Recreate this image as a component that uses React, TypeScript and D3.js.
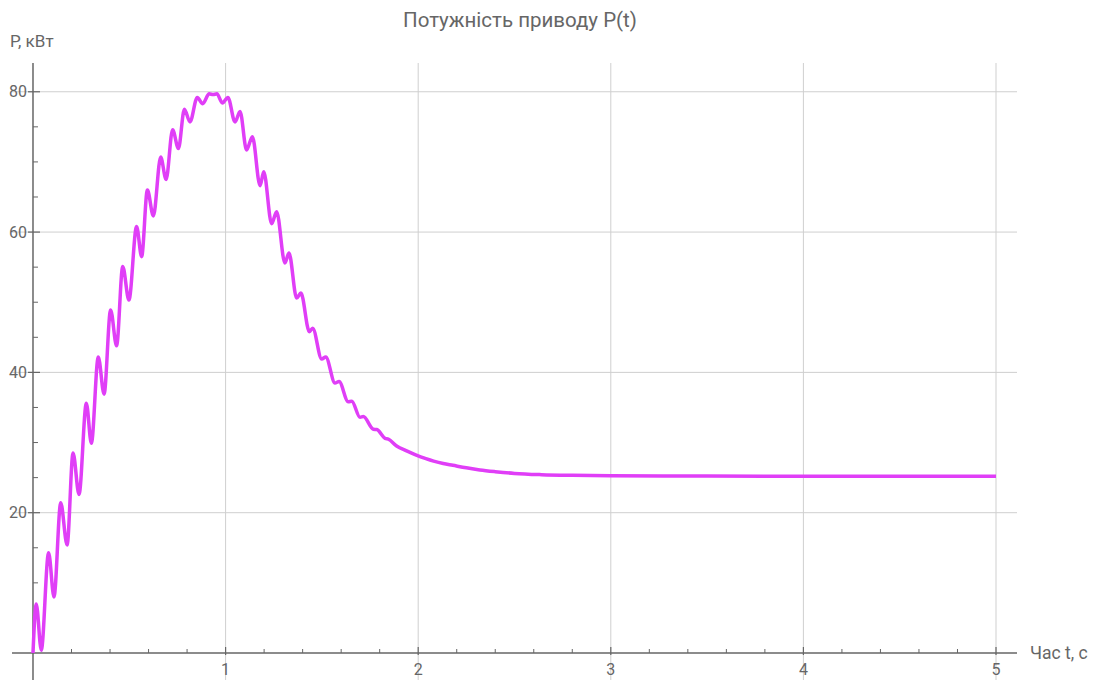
import React, { useRef, useEffect } from 'react';
import * as d3 from 'd3';

// time points (s) and drive power (kW) at its peaks / troughs
const timeS: number[] = [
  0, 0.017, 0.043, 0.081, 0.109, 0.144, 0.177, 0.208, 0.239, 0.277, 0.303,
  0.339, 0.369, 0.403, 0.434, 0.466, 0.498, 0.538, 0.564, 0.594, 0.625,
  0.663, 0.691, 0.725, 0.755, 0.786, 0.815, 0.853, 0.881, 0.915, 0.935,
  0.955, 0.983, 1.012, 1.049, 1.075, 1.109, 1.139, 1.179, 1.198, 1.239,
  1.265, 1.308, 1.329, 1.369, 1.391, 1.435, 1.452, 1.499, 1.52, 1.568,
  1.589, 1.637, 1.655, 1.698, 1.715, 1.767, 1.785, 1.828, 1.845, 1.888,
  1.94, 1.99, 2.04, 2.08, 2.13, 2.18, 2.25, 2.32, 2.4, 2.5, 2.64, 2.8,
  3.0, 3.5, 4.0, 5.0,
];
const powerKW: number[] = [
  0, 7.0, 0.4, 14.3, 8.0, 21.4, 15.4, 28.5, 22.6, 35.6, 29.9,
  42.2, 36.9, 48.9, 43.8, 55.1, 50.3, 60.8, 56.5, 66.0, 62.3,
  70.7, 67.5, 74.6, 71.9, 77.5, 75.7, 79.2, 78.3, 79.7, 79.6,
  79.7, 78.4, 79.2, 75.7, 77.2, 71.7, 73.6, 66.6, 68.6, 61.2,
  62.9, 55.6, 57.0, 50.6, 51.3, 45.8, 46.3, 41.9, 42.2, 38.5,
  38.7, 35.8, 35.9, 33.6, 33.7, 31.9, 31.85, 30.6, 30.5, 29.5,
  28.8, 28.2, 27.7, 27.35, 27.0, 26.75, 26.4, 26.1, 25.85, 25.6, 25.42, 25.32,
  25.26, 25.22, 25.2, 25.2,
];

const xTicks: number[] = [1, 2, 3, 4, 5];
const yTicks: number[] = [20, 40, 60, 80];

const title = 'Потужність приводу P(t)';
const xLabel = 'Час t, с';
const yLabel = 'P, кВт';

const App = () => {
  const svgRef = useRef<SVGSVGElement>(null);

  useEffect(() => {
    const width = 1098;
    const height = 680;
    const font = 'Roboto, "Open Sans", sans-serif';
    const axisColor = '#666';
    const gridColor = '#cfcfcf';
    const textColor = '#666';

    const svg = d3.select(svgRef.current)
      .attr('width', width)
      .attr('height', height)
      .style('background', 'white');

    svg.selectAll('*').remove();

    const xScale = d3.scaleLinear().domain([-0.109, 5.109]).range([12, 1017]);
    const yScale = d3.scaleLinear().domain([0, 84.1]).range([653, 63]);

    // grid
    svg.append('g')
      .selectAll('line')
      .data(xTicks)
      .join('line')
      .attr('x1', d => xScale(d))
      .attr('x2', d => xScale(d))
      .attr('y1', yScale(84.1))
      .attr('y2', height)
      .attr('stroke', gridColor)
      .attr('stroke-width', 1);

    svg.append('g')
      .selectAll('line')
      .data(yTicks)
      .join('line')
      .attr('x1', xScale(-0.109))
      .attr('x2', xScale(5.109))
      .attr('y1', d => yScale(d))
      .attr('y2', d => yScale(d))
      .attr('stroke', gridColor)
      .attr('stroke-width', 1);

    // axes
    svg.append('line')
      .attr('x1', xScale(-0.109))
      .attr('x2', xScale(5.109))
      .attr('y1', yScale(0))
      .attr('y2', yScale(0))
      .attr('stroke', axisColor)
      .attr('stroke-width', 1.5);

    svg.append('line')
      .attr('x1', xScale(0))
      .attr('x2', xScale(0))
      .attr('y1', yScale(84.1))
      .attr('y2', height)
      .attr('stroke', axisColor)
      .attr('stroke-width', 1.5);

    // x ticks
    const xMinor = d3.range(0.2, 5.01, 0.2).filter(t => Math.abs(t - Math.round(t)) > 0.01);
    svg.append('g')
      .selectAll('line')
      .data(xMinor)
      .join('line')
      .attr('x1', d => xScale(d))
      .attr('x2', d => xScale(d))
      .attr('y1', yScale(0))
      .attr('y2', yScale(0) - 4)
      .attr('stroke', axisColor)
      .attr('stroke-width', 1);

    svg.append('g')
      .selectAll('line')
      .data(xTicks)
      .join('line')
      .attr('x1', d => xScale(d))
      .attr('x2', d => xScale(d))
      .attr('y1', yScale(0) + 2)
      .attr('y2', yScale(0) - 6)
      .attr('stroke', axisColor)
      .attr('stroke-width', 1.2);

    svg.append('g')
      .selectAll('text')
      .data(xTicks)
      .join('text')
      .attr('x', d => xScale(d))
      .attr('y', yScale(0) + 22)
      .attr('text-anchor', 'middle')
      .attr('fill', textColor)
      .style('font-family', font)
      .style('font-size', '16px')
      .text(d => d);

    // y ticks
    const yMinor = d3.range(5, 84, 5).filter(v => v % 20 !== 0);
    svg.append('g')
      .selectAll('line')
      .data(yMinor)
      .join('line')
      .attr('x1', xScale(0))
      .attr('x2', xScale(0) + 5)
      .attr('y1', d => yScale(d))
      .attr('y2', d => yScale(d))
      .attr('stroke', axisColor)
      .attr('stroke-width', 1);

    svg.append('g')
      .selectAll('line')
      .data(yTicks)
      .join('line')
      .attr('x1', xScale(0) - 5)
      .attr('x2', xScale(0) + 7)
      .attr('y1', d => yScale(d))
      .attr('y2', d => yScale(d))
      .attr('stroke', axisColor)
      .attr('stroke-width', 1.2);

    svg.append('g')
      .selectAll('text')
      .data(yTicks)
      .join('text')
      .attr('x', xScale(0) - 6)
      .attr('y', d => yScale(d) + 5.5)
      .attr('text-anchor', 'end')
      .attr('fill', textColor)
      .style('font-family', font)
      .style('font-size', '16px')
      .text(d => d);

    // labels
    svg.append('text')
      .attr('x', 520)
      .attr('y', 27)
      .attr('text-anchor', 'middle')
      .attr('fill', textColor)
      .style('font-family', font)
      .style('font-size', '20.5px')
      .text(title);

    svg.append('text')
      .attr('x', 10)
      .attr('y', 47)
      .attr('fill', textColor)
      .style('font-family', font)
      .style('font-size', '17px')
      .text(yLabel);

    svg.append('text')
      .attr('x', 1030)
      .attr('y', yScale(0) + 6)
      .attr('fill', textColor)
      .style('font-family', font)
      .style('font-size', '17.5px')
      .text(xLabel);

    // curve
    const points: [number, number][] = timeS.map((t, i) => [t, powerKW[i]]);
    const line = d3.line<[number, number]>()
      .x(d => xScale(d[0]))
      .y(d => yScale(d[1]))
      .curve(d3.curveMonotoneX);

    svg.append('path')
      .datum(points)
      .attr('fill', 'none')
      .attr('stroke', '#e03ef7')
      .attr('stroke-width', 3.5)
      .attr('stroke-linejoin', 'round')
      .attr('d', line);
  }, []);

  return (
    <div style={{ position: 'absolute', left: 0, top: 0 }}>
      <svg ref={svgRef} style={{ display: 'block' }}></svg>
    </div>
  );
};

export default App;
